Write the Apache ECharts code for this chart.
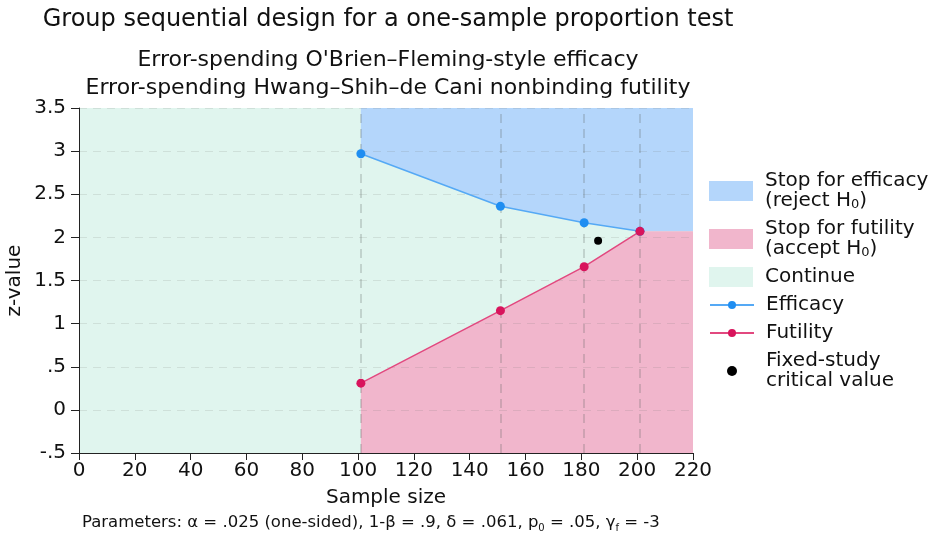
<!DOCTYPE html>
<html>
<head>
<meta charset="utf-8">
<title>Group sequential design</title>
<script src="https://cdn.jsdelivr.net/npm/echarts@6/dist/echarts.min.js"></script>
<style>
    html, body {margin: 0; padding: 0; background: #fff;}
    #chart {width: 936px; height: 539px;}
</style>
</head>
<body>
<div id="chart"></div>
<script>
"use strict";
// analysis looks (sample size) and boundaries
var looks = [101, 151, 181, 201];
var efficacy = [2.97, 2.36, 2.17, 2.07];
var futility = [0.31, 1.15, 1.66, 2.07];
var fixedCritical = [186, 1.96];
var xMax = 220;
var yTicks = [-0.5, 0, 0.5, 1, 1.5, 2, 2.5, 3, 3.5];

var FONT = "DejaVu Sans";

function pairs(xs, ys) {
    var out = [];
    xs.forEach(function (x, i) {
        out.push([x, ys[i]]);
    });
    return out;
}

// region boundaries carried out flat to the right edge after the last look
var effEdge = pairs(looks, efficacy);
effEdge.push([xMax, efficacy[efficacy.length - 1]]);
var futEdge = pairs(looks, futility);
futEdge.push([xMax, futility[futility.length - 1]]);

function tickLabel(v) {
    var s = String(v);
    return s.replace(/^0\./, ".").replace(/^-0\./, "-.");
}

var chart = echarts.init(document.getElementById("chart"));
var subRich = {
    sub: {fontFamily: FONT, fontSize: 13, verticalAlign: "bottom", color: "#111"}
};

var option = {
    animation: false,
    textStyle: {fontFamily: FONT},
    title: [{
        text: "Group sequential design for a one-sample proportion test",
        subtext: "Error-spending O'Brien\u2013Fleming-style efficacy\nError-spending Hwang\u2013Shih\u2013de Cani nonbinding futility",
        left: 383, top: 3, textAlign: "center", itemGap: 14,
        textStyle: {fontFamily: FONT, fontSize: 24, fontWeight: "normal", color: "#111"},
        subtextStyle: {fontFamily: FONT, fontSize: 22, lineHeight: 28, color: "#111"}
    }, {
        text: "Parameters: \u03b1 = .025 (one-sided), 1-\u03b2 = .9, \u03b4 = .061, p{s|0} = .05, \u03b3{s|f} = -3",
        left: 82, top: 513, padding: 0,
        textStyle: {
            fontFamily: FONT, fontSize: 16.5, fontWeight: "normal", color: "#111", lineHeight: 20,
            rich: {s: {fontFamily: FONT, fontSize: 10, verticalAlign: "bottom", color: "#111"}}
        }
    }],
    grid: {left: 79, right: 243, top: 108, bottom: 86, containLabel: false, outerBoundsMode: "none"},
    legend: [{
        orient: "vertical", left: 709, top: 171, padding: 0, itemGap: 8,
        itemWidth: 44, itemHeight: 20,
        data: [
            {name: "efficacyRegion", icon: "rect"},
            {name: "futilityRegion", icon: "rect"},
            {name: "Continue", icon: "rect"}
        ],
        formatter: function (name) {
            if (name === "efficacyRegion") return "Stop for efficacy\n(reject H{sub|0})";
            if (name === "futilityRegion") return "Stop for futility\n(accept H{sub|0})";
            return name;
        },
        textStyle: {fontFamily: FONT, fontSize: 20, lineHeight: 20, color: "#111", padding: [0, 0, 0, 7], rich: subRich}
    }, {
        orient: "vertical", left: 709, top: 295, padding: 0, itemGap: 8,
        itemWidth: 44, itemHeight: 10,
        data: ["Efficacy", "Futility", "Fixed-study\ncritical value"],
        textStyle: {fontFamily: FONT, fontSize: 20, lineHeight: 20, color: "#111", padding: [0, 0, 0, 7]}
    }],
    xAxis: {
        type: "value", min: 0, max: xMax, interval: 20, z: 10,
        name: "Sample size", nameLocation: "middle", nameGap: 35, nameMoveOverlap: false,
        nameTextStyle: {fontFamily: FONT, fontSize: 20, color: "#111"},
        axisLine: {show: true, onZero: false, lineStyle: {color: "#222", width: 1}},
        axisTick: {show: true, length: 7, lineStyle: {color: "#222", width: 1}},
        axisLabel: {fontFamily: FONT, fontSize: 20, color: "#111", margin: 8},
        splitLine: {show: false}
    },
    yAxis: {
        type: "value", min: -0.5, max: 3.5, interval: 0.5, z: 10,
        name: "z-value", nameLocation: "middle", nameGap: 54, nameMoveOverlap: false,
        nameTextStyle: {fontFamily: FONT, fontSize: 20, color: "#111"},
        axisLine: {show: true, onZero: false, lineStyle: {color: "#222", width: 1}},
        axisTick: {show: true, length: 8, lineStyle: {color: "#222", width: 1}},
        axisLabel: {fontFamily: FONT, fontSize: 20, color: "#111", margin: 13, formatter: tickLabel},
        splitLine: {show: false}
    },
    series: [{
        name: "Continue", type: "line", z: -3,
        data: [[0, 3.5], [xMax, 3.5]],
        symbol: "none", color: "#e0f5ee",
        lineStyle: {width: 0},
        areaStyle: {color: "#e0f5ee", opacity: 1, origin: "start"}
    }, {
        name: "efficacyRegion", type: "line", z: -2,
        data: effEdge, symbol: "none", color: "#b4d6fb",
        lineStyle: {width: 0},
        areaStyle: {color: "#b4d6fb", opacity: 1, origin: "end"}
    }, {
        name: "futilityRegion", type: "line", z: -2,
        data: futEdge, symbol: "none", color: "#f1b6cc",
        lineStyle: {width: 0},
        areaStyle: {color: "#f1b6cc", opacity: 1, origin: "start"}
    }, {
        name: "grid", type: "line", z: -1, data: [], silent: true,
        markLine: {
            silent: true, symbol: "none", label: {show: false},
            lineStyle: {color: "rgba(110,120,115,0.16)", type: [8, 6], width: 1.2},
            data: yTicks.map(function (v) { return {yAxis: v}; })
                .concat(looks.map(function (v) {
                    return {xAxis: v, lineStyle: {color: "rgba(90,100,95,0.3)", type: [9, 6], width: 1.5}};
                }))
        }
    }, {
        name: "Efficacy", type: "line", z: 12,
        data: pairs(looks, efficacy),
        symbol: "circle", symbolSize: 9,
        color: "#1f8ef1",
        itemStyle: {color: "#1f8ef1", opacity: 1},
        lineStyle: {color: "#55a9f5", width: 1.5}
    }, {
        name: "Futility", type: "line", z: 12,
        data: pairs(looks, futility),
        symbol: "circle", symbolSize: 9,
        color: "#d8145c",
        itemStyle: {color: "#d8145c", opacity: 1},
        lineStyle: {color: "#e2487f", width: 1.5}
    }, {
        name: "Fixed-study\ncritical value", type: "scatter", z: 12,
        data: [fixedCritical], symbolSize: 8,
        color: "#000",
        itemStyle: {color: "#000", opacity: 1}
    }]
};

chart.setOption(option);
</script>
</body>
</html>
